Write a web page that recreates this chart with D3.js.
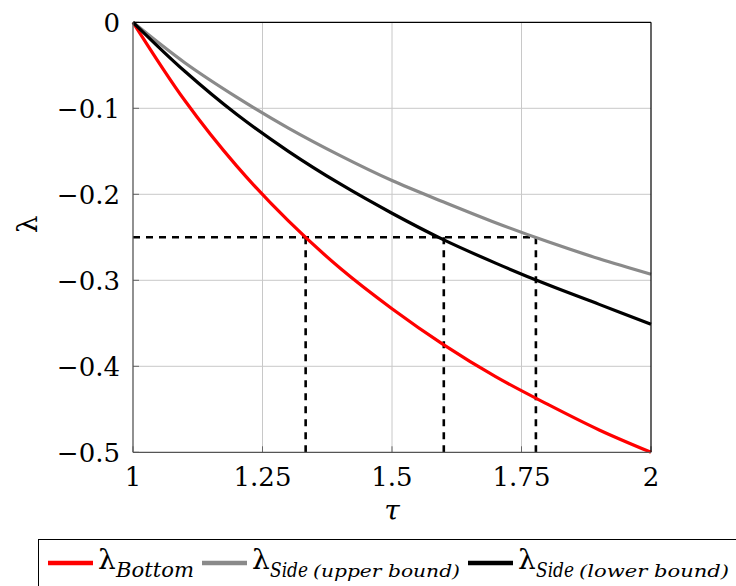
<!DOCTYPE html>
<html>
<head>
<meta charset="utf-8">
<script src="https://cdn.jsdelivr.net/npm/d3@7"></script>
<style>
  html, body { margin: 0; padding: 0; background: #fff; }
  svg { display: block; }
  text { font-family: "DejaVu Serif", serif; fill: #000; }
</style>
</head>
<body>
<svg id="chart" width="736" height="586"></svg>
<script>
// ---- data ----
const tau = [1.0, 1.1, 1.2, 1.3, 1.4, 1.5, 1.6, 1.7, 1.8, 1.9, 2.0];
const lambdaBottom = [0, -0.091, -0.167, -0.231, -0.286, -0.333, -0.375, -0.412, -0.444, -0.474, -0.5];
const lambdaSideUpper = [0, -0.047, -0.087, -0.123, -0.155, -0.184, -0.209, -0.233, -0.255, -0.275, -0.293];
const lambdaSideLower = [0, -0.057, -0.107, -0.150, -0.188, -0.222, -0.253, -0.280, -0.305, -0.328, -0.351];

const xTicks = [1, 1.25, 1.5, 1.75, 2];
const xTickLabels = ["1", "1.25", "1.5", "1.75", "2"];
const yTicks = [0, -0.1, -0.2, -0.3, -0.4, -0.5];
const yTickLabels = ["0", "\u22120.1", "\u22120.2", "\u22120.3", "\u22120.4", "\u22120.5"];

const refLevel = -0.25;
const refTaus = [1.3333, 1.6, 1.7778];

const seriesNames = ["Bottom", "Side", "Side"];
const seriesNotes = ["", "(upper bound)", "(lower bound)"];
const seriesColors = ["#ff0000", "#8a8a8a", "#000000"];

// ---- drawing ----
const svg = d3.select("#chart");
const x = d3.scaleLinear().domain([1, 2]).range([133, 651]);
const y = d3.scaleLinear().domain([-0.5, 0]).range([452.3, 22.3]);

// grid
const grid = svg.append("g").attr("stroke", "#c8c8c8").attr("stroke-width", 1);
grid.selectAll(".gx").data(xTicks.slice(1, -1)).enter().append("line")
  .attr("x1", d => x(d)).attr("x2", d => x(d))
  .attr("y1", y(0)).attr("y2", y(-0.5));
grid.selectAll(".gy").data(yTicks.slice(1, -1)).enter().append("line")
  .attr("x1", x(1)).attr("x2", x(2))
  .attr("y1", d => y(d)).attr("y2", d => y(d));

// tick marks (inside)
const ticks = svg.append("g").attr("stroke", "#666").attr("stroke-width", 1);
ticks.selectAll(".ty").data(yTicks).enter().append("line")
  .attr("x1", x(1)).attr("x2", x(1) + 6)
  .attr("y1", d => y(d)).attr("y2", d => y(d));
ticks.selectAll(".tx").data(xTicks).enter().append("line")
  .attr("x1", d => x(d)).attr("x2", d => x(d))
  .attr("y1", y(-0.5)).attr("y2", y(-0.5) - 6);

// dashed reference lines
const dash = svg.append("g").attr("stroke", "#000").attr("stroke-width", 2.6)
  .attr("stroke-dasharray", "7,6").attr("fill", "none");
dash.append("line")
  .attr("x1", x(1)).attr("x2", x(d3.max(refTaus)))
  .attr("y1", y(refLevel)).attr("y2", y(refLevel));
dash.selectAll(".v").data(refTaus).enter().append("line")
  .attr("x1", d => x(d)).attr("x2", d => x(d))
  .attr("y1", y(refLevel)).attr("y2", y(-0.5));

// curves
const line = d3.line().x((d, i) => x(tau[i])).y(d => y(d)).curve(d3.curveCatmullRom.alpha(0.5));
const series = [lambdaBottom, lambdaSideUpper, lambdaSideLower];
svg.append("g").selectAll("path").data(series).enter().append("path")
  .attr("d", d => line(d))
  .attr("fill", "none")
  .attr("stroke", (d, i) => seriesColors[i])
  .attr("stroke-width", 3.2)
  .attr("stroke-linejoin", "round");

// frame
svg.append("line").attr("x1", x(1)).attr("x2", x(2)).attr("y1", y(0)).attr("y2", y(0))
  .attr("stroke", "#000").attr("stroke-width", 1.2);
svg.append("line").attr("x1", x(2)).attr("x2", x(2)).attr("y1", y(0)).attr("y2", y(-0.5))
  .attr("stroke", "#000").attr("stroke-width", 1.2);
svg.append("line").attr("x1", x(1)).attr("x2", x(1)).attr("y1", y(0)).attr("y2", y(-0.5))
  .attr("stroke", "#555").attr("stroke-width", 1.3);
svg.append("line").attr("x1", x(1)).attr("x2", x(2)).attr("y1", y(-0.5)).attr("y2", y(-0.5))
  .attr("stroke", "#555").attr("stroke-width", 1.3);

// tick labels
svg.append("g").selectAll("text").data(yTicks).enter().append("text")
  .attr("x", 120).attr("y", d => y(d) + 9.5)
  .attr("text-anchor", "end").attr("font-size", 26)
  .text((d, i) => yTickLabels[i]);
svg.append("g").selectAll("text").data(xTicks).enter().append("text")
  .attr("x", d => x(d)).attr("y", 486)
  .attr("text-anchor", "middle").attr("font-size", 26)
  .text((d, i) => xTickLabels[i]);

// axis labels
svg.append("text").attr("x", (x(1) + x(2)) / 2).attr("y", 520)
  .attr("text-anchor", "middle").attr("font-size", 28).attr("font-style", "italic")
  .text("\u03c4");
svg.append("text").attr("transform", `translate(37,${y(-0.235)}) rotate(-90)`)
  .attr("text-anchor", "middle").attr("font-size", 28)
  .text("\u03bb");

// legend
const leg = svg.append("g");
leg.append("rect").attr("x", 38.5).attr("y", 539.5).attr("width", 760).attr("height", 70)
  .attr("fill", "#fff").attr("stroke", "#000").attr("stroke-width", 1);
const subLen = [78, 38, 38];
const noteLen = [0, 147, 150];
let cx = 48;
series.forEach((s, i) => {
  leg.append("line").attr("x1", cx).attr("x2", cx + 45).attr("y1", 563).attr("y2", 563)
    .attr("stroke", seriesColors[i]).attr("stroke-width", 4.5);
  cx += 50;
  leg.append("text").attr("x", cx).attr("y", 569).attr("font-size", 28).text("\u03bb");
  cx += 18;
  leg.append("text").attr("x", cx).attr("y", 577).attr("font-size", 20).attr("font-style", "italic")
    .attr("textLength", subLen[i]).attr("lengthAdjust", "spacingAndGlyphs")
    .text(seriesNames[i]);
  cx += subLen[i];
  if (seriesNotes[i]) {
    cx += 5;
    leg.append("text").attr("x", cx).attr("y", 577).attr("font-size", 16).attr("font-style", "italic")
      .attr("textLength", noteLen[i]).attr("lengthAdjust", "spacingAndGlyphs")
      .text(seriesNotes[i]);
    cx += noteLen[i];
  }
  cx += 8;
});
</script>
</body>
</html>
